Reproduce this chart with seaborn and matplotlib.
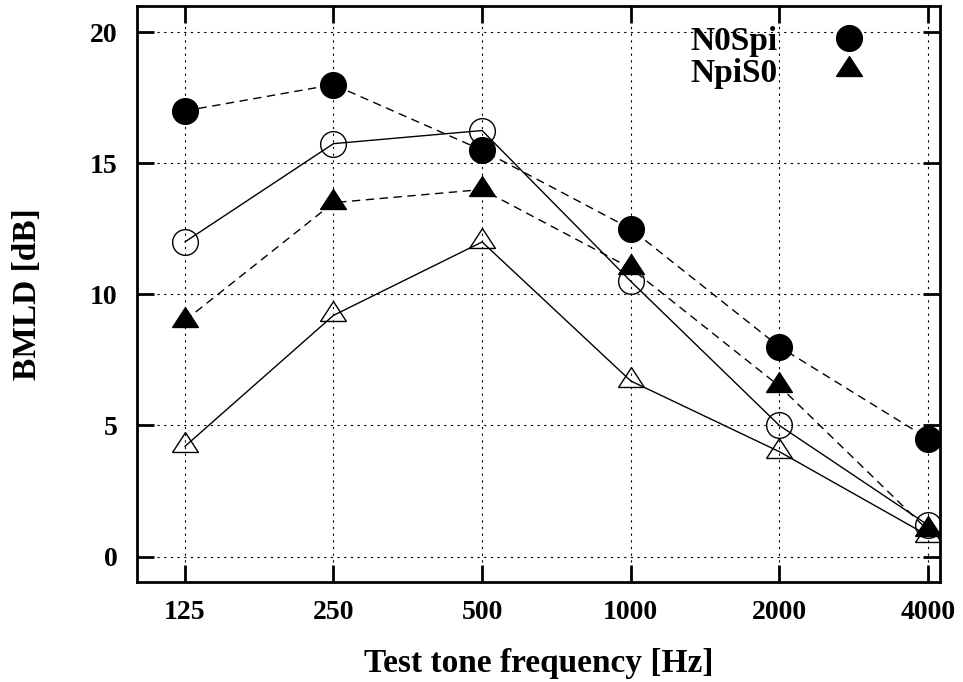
import matplotlib
matplotlib.use("Agg")
import matplotlib.pyplot as plt
from matplotlib.lines import Line2D
import seaborn as sns
import pandas as pd

freqs = [125, 250, 500, 1000, 2000, 4000]
n0spi_filled = [17.0, 18.0, 15.5, 12.5, 8.0, 4.5]
n0spi_open = [12.0, 15.75, 16.25, 10.5, 5.0, 1.2]
npis0_filled = [9.0, 13.5, 14.0, 11.0, 6.5, 1.0]
npis0_open = [4.2, 9.2, 12.0, 6.7, 4.0, 0.8]
xticks = [125, 250, 500, 1000, 2000, 4000]
yticks = [0, 5, 10, 15, 20]
legend_labels = ["N0Spi", "NpiS0"]

sns.set_theme(style="white")
plt.rcParams['font.family'] = ['Liberation Serif', 'DejaVu Serif']
plt.rcParams['font.weight'] = 'bold'
for k in ['text.color', 'axes.labelcolor', 'xtick.color', 'ytick.color',
          'xtick.labelcolor', 'ytick.labelcolor']:
    plt.rcParams[k] = 'black'

fig = plt.figure(figsize=(9.63, 6.82), dpi=100)
ax = fig.add_axes([137/963, 1-582/682, (940-137)/963, (582-6)/682])

tri = [(-0.93, -0.43), (0.93, -0.43), (0.0, 1.0), (-0.93, -0.43)]
circ_ms = 18.5
tri_ms = 20
dash = (6, 4)
series = [
    (n0spi_filled, 'o', circ_ms, 'black', dash),
    (n0spi_open, 'o', circ_ms, 'none', None),
    (npis0_filled, tri, tri_ms, 'black', dash),
    (npis0_open, tri, tri_ms, 'none', None),
]
for vals, mk, ms, fc, ds in series:
    df = pd.DataFrame({"f": freqs, "v": vals})
    sns.lineplot(data=df, x="f", y="v", ax=ax, color='black', lw=1.0,
                 marker=mk, markersize=ms, markerfacecolor=fc,
                 markeredgecolor='black', markeredgewidth=1.0)
    if ds:
        ax.lines[-1].set_dashes(ds)

ax.set_xscale('log')
ax.set_xlim(100, 4230)
ax.set_ylim(-0.97, 21.0)
ax.set_xticks(xticks)
ax.set_xticklabels([str(t) for t in xticks])
ax.minorticks_off()
ax.set_yticks(yticks)
ax.grid(True, which='major', linestyle=(0, (2, 4)), color='black', lw=0.8)
ax.tick_params(axis='both', which='major', direction='in', length=12, width=2,
               top=True, right=True, bottom=True, left=True,
               labelsize=20, color='black', labelcolor='black')
ax.tick_params(axis='y', pad=14)
ax.tick_params(axis='x', pad=13)
for lab in ax.get_xticklabels() + ax.get_yticklabels():
    lab.set_fontweight('bold')
for s in ax.spines.values():
    s.set_linewidth(2)
    s.set_color('black')

ax.set_xlabel("Test tone frequency [Hz]", fontsize=24, fontweight='bold', color='black')
ax.set_ylabel("BMLD [dB]", fontsize=24, fontweight='bold', color='black')
ax.xaxis.set_label_coords(0.5, (582-648)/576)
ax.yaxis.set_label_coords((43-137)/803, 0.5)

handles = [Line2D([], [], ls='none', marker='o', markersize=circ_ms, color='black'),
           Line2D([], [], ls='none', marker=tri, markersize=tri_ms, color='black')]
leg = ax.legend(handles, legend_labels, loc='upper right', markerfirst=False,
                frameon=False, prop={'size': 24, 'weight': 'bold'},
                handlelength=2.0, handletextpad=1.14, labelspacing=0.03,
                borderpad=0, borderaxespad=0,
                bbox_to_anchor=((882-137)/803, (582-26)/576))
for t in leg.get_texts():
    t.set_color('black')

fig.savefig("out.png", dpi=100)
